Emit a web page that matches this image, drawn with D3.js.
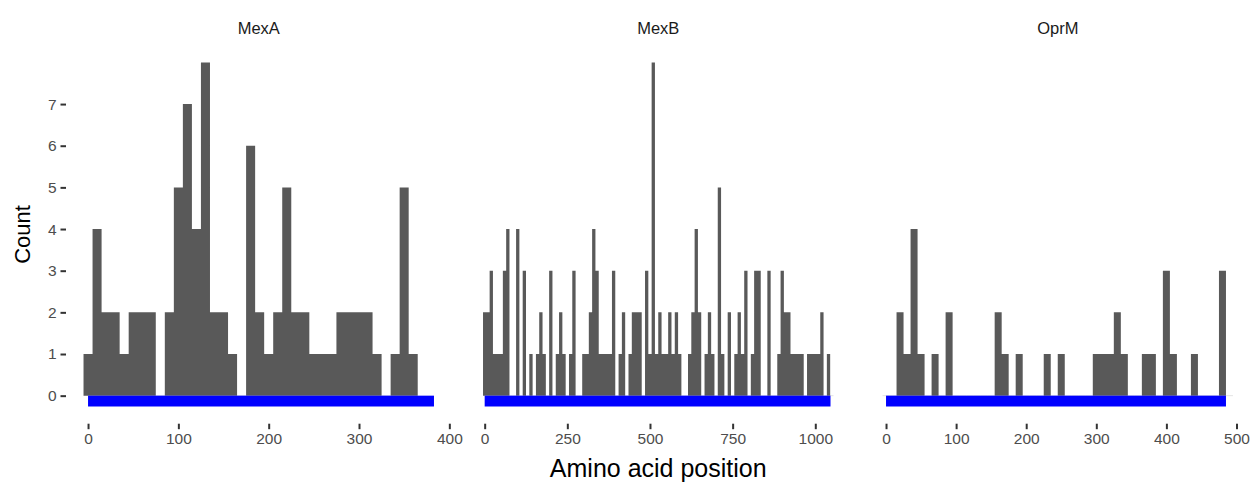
<!DOCTYPE html>
<html>
<head>
<meta charset="utf-8">
<script src="https://cdn.jsdelivr.net/npm/d3@7"></script>
<style>
  body { margin: 0; background: #fff; }
  text { font-family: "Liberation Sans", Arial, sans-serif; }
</style>
</head>
<body>
<div class="chart"></div>
<script>
// protein facets
var proteins = ["MexA", "MexB", "OprM"];
var proteinLengths = [383, 1046, 485];
var binWidth = 10;

// counts per 10-residue bin, bin k is centred on k*10
var mexaCounts = [1, 4, 2, 2, 1, 2, 2, 2, 0, 2, 5, 7, 4, 8, 2, 2, 1, 0, 6, 2,
                  1, 2, 5, 2, 2, 1, 1, 1, 2, 2, 2, 2, 1, 0, 1, 5, 1];
var mexbCounts = [2, 2, 3, 1, 1, 1, 3, 4, 0, 0, 4, 0, 3, 0, 1, 0, 1, 2, 1, 0,
                  3, 0, 1, 2, 1, 0, 1, 3, 0, 0, 1, 1, 2, 4, 3, 1, 1, 1, 1, 3,
                  0, 1, 2, 0, 1, 2, 2, 2, 0, 3, 1, 8, 1, 2, 1, 1, 2, 1, 2, 1,
                  0, 0, 1, 2, 4, 2, 0, 1, 2, 1, 0, 5, 1, 0, 2, 0, 1, 2, 1, 3,
                  0, 1, 3, 3, 0, 0, 3, 0, 0, 1, 3, 2, 2, 1, 1, 1, 1, 0, 1, 1,
                  1, 1, 2, 0, 1, 0];
var oprmCounts = [0, 0, 2, 1, 4, 1, 0, 1, 0, 2, 0, 0, 0, 0, 0, 0, 2, 1, 0, 1,
                  0, 0, 0, 1, 0, 1, 0, 0, 0, 0, 1, 1, 1, 2, 1, 0, 0, 1, 1, 0,
                  3, 1, 0, 0, 1, 0, 0, 0, 3, 0];
var allCounts = [mexaCounts, mexbCounts, oprmCounts];

var xTicks = [[0, 100, 200, 300, 400],
              [0, 250, 500, 750, 1000],
              [0, 100, 200, 300, 400, 500]];
var yTicks = [0, 1, 2, 3, 4, 5, 6, 7];

var width = 1258, height = 483;
var panelLeft = 66, panelWidth = 385.5, panelGap = 14;
var panelTop = 45.2, panelBottom = 423.7;
var barBottom = -0.26;   // blue sequence bar sits just under zero

var svg = d3.select(".chart").append("svg")
    .attr("width", width)
    .attr("height", height);

// shared y scale, ggplot style 5% expansion
var yMin = barBottom, yMax = d3.max(allCounts, function(c){ return d3.max(c); });
var yPad = (yMax - yMin) * 0.05;
var y = d3.scaleLinear()
    .domain([yMin - yPad, yMax + yPad])
    .range([panelBottom, panelTop]);

proteins.forEach(function(name, i){
    var counts = allCounts[i];
    var bins = counts.map(function(c, k){
        return { x0: k * binWidth - binWidth / 2, x1: k * binWidth + binWidth / 2, n: c };
    });
    var lo = Math.min(0, bins[0].x0);
    var hi = Math.max(proteinLengths[i], bins[bins.length - 1].x1);
    var pad = (hi - lo) * 0.05;
    var left = panelLeft + i * (panelWidth + panelGap);
    var x = d3.scaleLinear()
        .domain([lo - pad, hi + pad])
        .range([left, left + panelWidth]);

    var g = svg.append("g").attr("class", "panel");

    // faint baseline from the empty bins
    g.selectAll("line.empty")
        .data(bins.filter(function(b){ return b.n === 0; }))
        .enter().append("line")
        .attr("class", "empty")
        .attr("x1", function(b){ return x(b.x0); })
        .attr("x2", function(b){ return x(b.x1); })
        .attr("y1", y(0))
        .attr("y2", y(0))
        .style("stroke", "#e4e4e4")
        .style("stroke-width", 1);

    // bars as one stepped area so neighbours don't leave seams
    var steps = bins.map(function(b){ return { x: b.x0, n: b.n }; });
    steps.push({ x: bins[bins.length - 1].x1, n: 0 });
    var area = d3.area()
        .curve(d3.curveStepAfter)
        .x(function(d){ return x(d.x); })
        .y0(y(0))
        .y1(function(d){ return y(d.n); });
    g.append("path")
        .datum(steps)
        .attr("class", "bars")
        .attr("d", area)
        .style("fill", "#595959");

    // blue sequence span
    g.append("rect")
        .attr("x", x(0))
        .attr("width", x(proteinLengths[i]) - x(0))
        .attr("y", y(0))
        .attr("height", y(barBottom) - y(0))
        .style("fill", "#0000ff");

    // x axis
    var xAxis = d3.axisBottom(x).tickValues(xTicks[i]).tickFormat(d3.format("d"))
        .tickSize(5.5).tickPadding(3.5);
    var ax = svg.append("g")
        .attr("transform", "translate(0," + panelBottom + ")")
        .call(xAxis);
    ax.select(".domain").remove();
    ax.selectAll(".tick line").style("stroke", "#333333").style("stroke-width", 2);
    ax.selectAll(".tick text")
        .style("fill", "#4d4d4d")
        .style("font-size", "15.5px")
        .style("font-family", "'Liberation Sans', Arial, sans-serif");

    // strip label
    svg.append("text")
        .attr("x", left + panelWidth / 2)
        .attr("y", 34)
        .attr("text-anchor", "middle")
        .style("font-size", "16.5px")
        .style("fill", "#1a1a1a")
        .text(name);
});

// y axis on the first panel only
var yAxis = d3.axisLeft(y).tickValues(yTicks).tickSize(5.5).tickPadding(4);
var ay = svg.append("g")
    .attr("transform", "translate(" + panelLeft + ",0)")
    .call(yAxis);
ay.select(".domain").remove();
ay.selectAll(".tick line").style("stroke", "#333333").style("stroke-width", 2);
ay.selectAll(".tick text")
    .style("fill", "#4d4d4d")
    .style("font-size", "15.5px")
    .style("font-family", "'Liberation Sans', Arial, sans-serif");

// axis titles
svg.append("text")
    .attr("x", (panelLeft + panelLeft + 3 * panelWidth + 2 * panelGap) / 2)
    .attr("y", 477)
    .attr("text-anchor", "middle")
    .style("font-size", "25px")
    .style("fill", "#000")
    .text("Amino acid position");

svg.append("text")
    .attr("transform", "translate(30," + ((panelTop + panelBottom) / 2) + ") rotate(-90)")
    .attr("text-anchor", "middle")
    .style("font-size", "22px")
    .style("fill", "#000")
    .text("Count");
</script>
</body>
</html>
